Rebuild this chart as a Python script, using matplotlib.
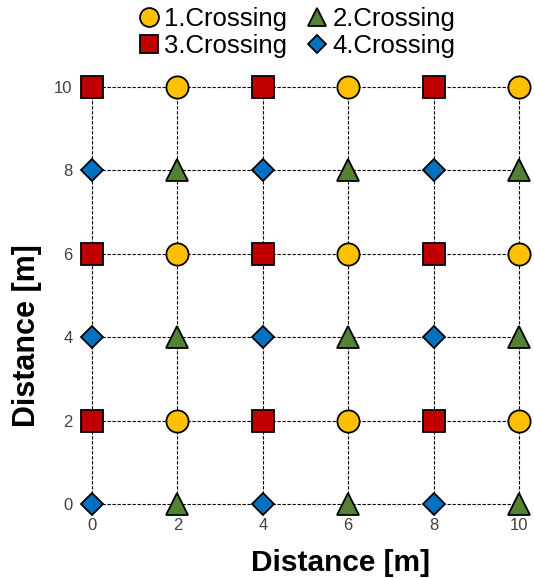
import matplotlib
matplotlib.use('Agg')
import matplotlib.pyplot as plt

plt.rcParams['font.family'] = ['Liberation Sans', 'DejaVu Sans']

# Crossing layouts on the 2 m grid
c1_x = [2, 6, 10, 2, 6, 10, 2, 6, 10]
c1_y = [10, 10, 10, 6, 6, 6, 2, 2, 2]
c2_x = [2, 6, 10, 2, 6, 10, 2, 6, 10]
c2_y = [8, 8, 8, 4, 4, 4, 0, 0, 0]
c3_x = [0, 4, 8, 0, 4, 8, 0, 4, 8]
c3_y = [10, 10, 10, 6, 6, 6, 2, 2, 2]
c4_x = [0, 4, 8, 0, 4, 8, 0, 4, 8]
c4_y = [8, 8, 8, 4, 4, 4, 0, 0, 0]
ticks = [0, 2, 4, 6, 8, 10]

fig = plt.figure(figsize=(5.34, 5.78), dpi=100)
ax = fig.add_axes([92 / 534, 74 / 578, 427 / 534, 417 / 578])

for t in ticks:
    ax.axhline(t, color='black', lw=0.8, ls=(0, (3, 1.5)), zorder=1, clip_on=False)
    ax.axvline(t, color='black', lw=0.8, ls=(0, (3, 1.5)), zorder=1, clip_on=False)

kw = dict(ls='none', mec='black', mew=1.3, clip_on=False, zorder=3)
h1, = ax.plot(c1_x, c1_y, 'o', ms=16, mfc='#FFC000', label='1.Crossing', **kw)
h2, = ax.plot(c2_x, c2_y, '^', ms=16, mfc='#548235', label='2.Crossing', **kw)
h3, = ax.plot(c3_x, c3_y, 's', ms=15.5, mfc='#C00000', label='3.Crossing', **kw)
h4, = ax.plot(c4_x, c4_y, 'D', ms=11, mfc='#0070C0', label='4.Crossing', **kw)

ax.set_xlim(0, 10)
ax.set_ylim(0, 10)
ax.set_xticks(ticks)
ax.set_yticks(ticks)
ax.tick_params(length=0, labelsize=12, labelcolor='#404040')
ax.tick_params(axis='x', pad=10)
ax.tick_params(axis='y', pad=14)
for s in ax.spines.values():
    s.set_visible(False)

ax.set_xlabel('Distance [m]', fontsize=21.5, fontweight='bold')
ax.set_ylabel('Distance [m]', fontsize=22, fontweight='bold')
ax.xaxis.set_label_coords(0.581, -0.108)
ax.yaxis.set_label_coords(-0.117, 0.403)

fig.legend(handles=[h1, h3, h2, h4], ncol=2, frameon=False, fontsize=18.5,
           loc='upper center', bbox_to_anchor=(297 / 534, 0.993), markerscale=0.85,
           handlelength=0.8, handletextpad=0.2, columnspacing=0.75,
           labelspacing=0.12, borderaxespad=0.0, borderpad=0.1)

fig.savefig('out.png', dpi=100)
